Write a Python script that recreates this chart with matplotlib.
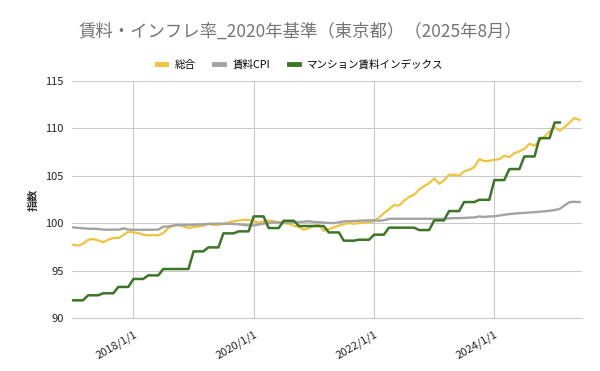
import matplotlib
matplotlib.use('Agg')
import matplotlib.pyplot as plt
import pandas as pd

plt.rcParams['font.family'] = ['Noto Sans CJK JP', 'DejaVu Sans']

# monthly values from 2017/1
sogo = [97.72, 97.62, 97.83, 98.25, 98.32, 98.18, 97.97, 98.25, 98.43, 98.43,
        98.74, 99.09, 99.02, 98.95, 98.78, 98.71, 98.74, 98.71, 98.95, 99.48,
        99.72, 99.82, 99.65, 99.48, 99.58, 99.65, 99.72, 99.93, 99.82, 99.82,
        99.93, 100.07, 100.18, 100.28, 100.35, 100.35, 100.18, 100.07, 100.18, 100.28,
        100.18, 100.07, 100.0, 99.93, 99.72, 99.58, 99.3, 99.45, 99.75, 99.8,
        99.2, 99.37, 99.55, 99.72, 99.9, 100.0, 99.93, 100.0, 100.07, 100.12,
        100.2, 100.6, 101.05, 101.45, 101.9, 101.85, 102.36, 102.75, 103.0, 103.55,
        103.9, 104.2, 104.72, 104.15, 104.5, 105.1, 105.1, 105.0, 105.45, 105.62,
        105.9, 106.75, 106.54, 106.57, 106.68, 106.75, 107.1, 106.96, 107.38, 107.56,
        107.84, 108.36, 108.15, 108.71, 109.14, 109.66, 110.12, 109.73, 110.12, 110.61,
        111.07, 110.89]

rent_cpi = [99.55, 99.5, 99.45, 99.42, 99.4, 99.38, 99.32, 99.3, 99.32, 99.3,
            99.44, 99.32, 99.3, 99.3, 99.3, 99.3, 99.3, 99.32, 99.62, 99.65,
            99.75, 99.8, 99.78, 99.8, 99.82, 99.85, 99.88, 99.92, 99.93, 99.95,
            99.93, 99.92, 99.9, 99.88, 99.8, 99.76, 99.76, 99.85, 99.95, 100.02,
            100.07, 100.07, 100.05, 100.08, 100.1, 100.12, 100.15, 100.2, 100.12, 100.1,
            100.05, 100.02, 100.0, 100.1, 100.18, 100.2, 100.22, 100.25, 100.28, 100.29,
            100.3, 100.25, 100.3, 100.45, 100.46, 100.46, 100.46, 100.46, 100.46, 100.46,
            100.46, 100.46, 100.46, 100.45, 100.47, 100.5, 100.53, 100.53, 100.55, 100.58,
            100.6, 100.7, 100.65, 100.7, 100.72, 100.8, 100.88, 100.95, 101.0, 101.05,
            101.08, 101.12, 101.15, 101.2, 101.25, 101.3, 101.38, 101.5, 101.85, 102.22,
            102.25, 102.22]

mansion = [91.86, 91.86, 91.86, 92.39, 92.39, 92.39, 92.6, 92.6, 92.6, 93.27,
           93.27, 93.27, 94.11, 94.11, 94.11, 94.49, 94.49, 94.49, 95.16, 95.16,
           95.16, 95.16, 95.16, 95.16, 97.02, 97.02, 97.02, 97.44, 97.44, 97.44,
           98.92, 98.92, 98.92, 99.13, 99.13, 99.13, 100.71, 100.71, 100.71, 99.48,
           99.48, 99.48, 100.25, 100.25, 100.25, 99.69, 99.69, 99.69, 99.69, 99.69,
           99.69, 99.02, 99.02, 99.02, 98.15, 98.15, 98.15, 98.25, 98.25, 98.25,
           98.78, 98.78, 98.78, 99.52, 99.52, 99.52, 99.52, 99.52, 99.52, 99.27,
           99.27, 99.27, 100.29, 100.29, 100.29, 101.27, 101.27, 101.27, 102.22, 102.22,
           102.22, 102.46, 102.46, 102.46, 104.54, 104.54, 104.54, 105.7, 105.7, 105.7,
           107.03, 107.03, 107.03, 108.96, 108.96, 108.96, 110.61, 110.61]

dates = pd.date_range('2017-01-01', periods=len(sogo), freq='MS')
labels = ['総合', '賃料CPI', 'マンション賃料インデックス']
xticks = ['2018-01-01', '2020-01-01', '2022-01-01', '2024-01-01']
xtick_labels = ['2018/1/1', '2020/1/1', '2022/1/1', '2024/1/1']
yticks = [90, 95, 100, 105, 110, 115]

fig = plt.figure(figsize=(6, 3.71), dpi=100)
ax = fig.add_axes([0.12, 0.143, 0.85, 0.639])

ax.plot(dates, sogo, color='#F0C23E', lw=1.6, label=labels[0])
ax.plot(dates, rent_cpi, color='#A3A3A3', lw=1.7, label=labels[1])
ax.plot(dates[:len(mansion)], mansion, color='#3B7526', lw=1.8, label=labels[2])

ax.set_ylim(90, 115)
ax.set_yticks(yticks)
ax.set_xlim(pd.Timestamp('2016-12-24'), pd.Timestamp('2025-06-16'))
ax.set_xticks([pd.Timestamp(t) for t in xticks])
ax.set_xticklabels(xtick_labels, rotation=30, ha='right', rotation_mode='anchor')
ax.grid(True, color='#C9C9C9', lw=0.8)
ax.set_axisbelow(True)
for s in ['top', 'right', 'left']:
    ax.spines[s].set_visible(False)
ax.spines['bottom'].set_color('#C9C9C9')
ax.tick_params(length=0, labelsize=8, colors='#222222', pad=6)
ax.tick_params(axis='x', pad=8)
ax.set_ylabel('指数', fontsize=8, fontweight='bold', color='#333333', labelpad=4)

fig.text(0.5, 0.915, '賃料・インフレ率_2020年基準（東京都）（2025年8月）',
         ha='center', va='center', fontsize=12.5, color='#757575')
fig.legend(loc='center', bbox_to_anchor=(0.5, 0.826), ncol=3, frameon=False,
           fontsize=7.6, handlelength=0.9, handletextpad=0.8, columnspacing=1.8)
for h in fig.legends[0].get_lines():
    h.set_linewidth(3.5)

fig.savefig('out.png', dpi=100)
